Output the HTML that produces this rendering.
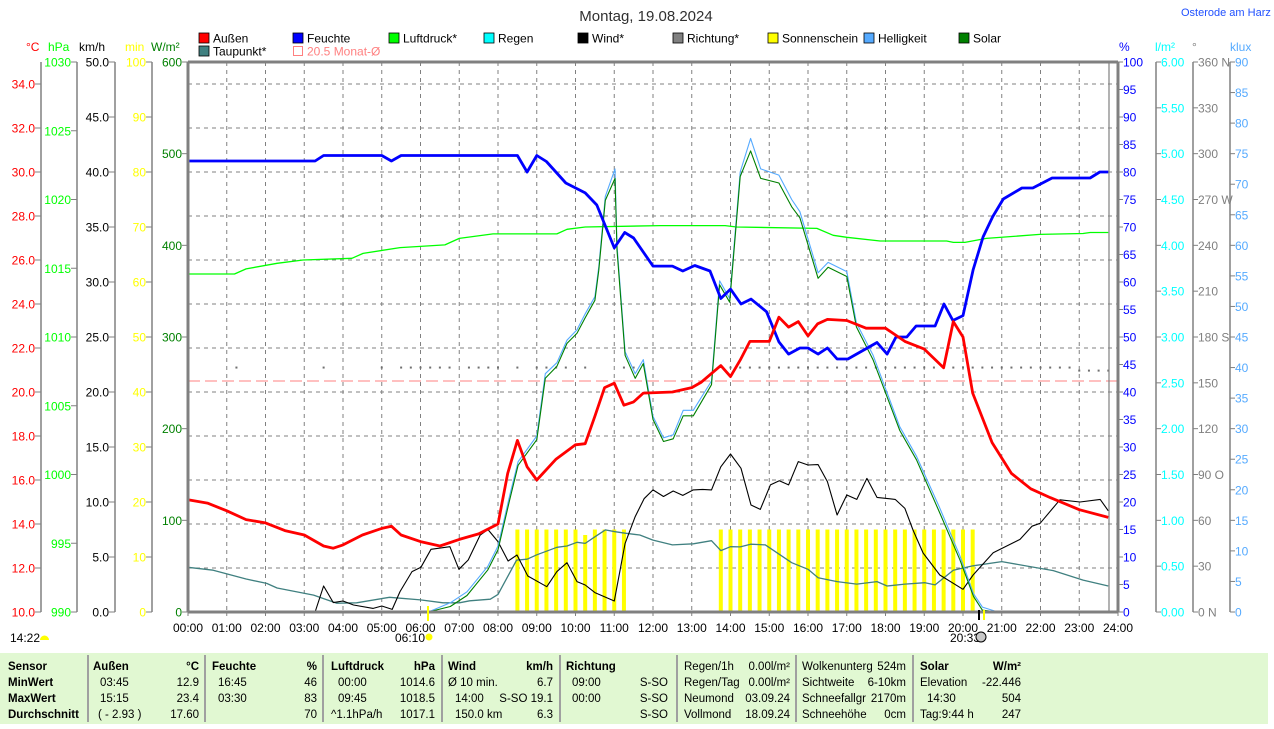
<!DOCTYPE html>
<html><head><meta charset="utf-8">
<style>
html,body{margin:0;padding:0;background:#fff;}
body{width:1274px;height:724px;overflow:hidden;font-family:"Liberation Sans",sans-serif;}
svg text{font-family:"Liberation Sans",sans-serif;}
</style></head>
<body>
<svg id="chart" width="1274" height="724" viewBox="0 0 1274 724" xmlns="http://www.w3.org/2000/svg">
<rect x="0" y="653" width="1268" height="71" fill="#e1f8d2"/>
<text x="646" y="21" font-size="15" text-anchor="middle" fill="#303030">Montag, 19.08.2024</text>
<text x="1181" y="16" font-size="11" fill="#2050ff">Osterode am Harz</text>
<g id="g"></g>
</svg>
<script>
// ---- data ----
const tT=[0,0.5,1,1.5,2,2.5,3,3.5,3.75,4,4.5,5,5.25,5.5,6,6.5,7,7.5,8,8.25,8.5,8.75,9,9.5,10,10.25,10.5,10.75,11,11.25,11.5,11.75,12.5,13,13.25,13.75,14,14.25,14.5,15,15.25,15.5,15.75,16,16.25,16.5,17,17.5,18,18.5,19,19.5,19.75,20,20.25,20.75,21.25,21.75,22.25,23,23.75];
const vT=[15.1,14.95,14.6,14.2,14.05,13.7,13.5,13.0,12.9,13.05,13.5,13.8,13.9,13.5,13.2,13.0,13.3,13.55,14.0,16.3,17.8,16.6,16.0,16.95,17.6,17.65,18.9,20.2,20.4,19.4,19.55,19.95,20.0,20.2,20.45,21.2,20.7,21.45,22.3,22.3,23.4,22.95,23.2,22.55,23.1,23.3,23.25,22.9,22.9,22.3,21.95,21.1,23.2,22.5,19.95,17.7,16.3,15.6,15.2,14.65,14.3];
const tH=[0,3.28,3.5,5.0,5.25,5.5,8.5,8.75,9.0,9.25,9.75,10.25,10.55,11.0,11.27,11.5,12.0,12.5,12.77,13.08,13.47,13.75,14.0,14.27,14.53,14.93,15.25,15.5,15.79,16.0,16.26,16.5,16.75,17.03,17.78,18.04,18.27,18.55,18.79,19.28,19.51,19.74,20.0,20.26,20.52,20.77,21.04,21.52,21.8,22.3,23.28,23.53,23.75];
const vH=[82,82,83,83,82,83,83,80,83,81.9,78,76.2,74,66.2,69,68,62.9,62.9,62,63,62,57,58.7,56,56.9,54.6,49.1,46.9,48,48,46.9,48,46,46,49,46.9,50,50,52,52,56,53,53.9,62.2,68.2,71.9,75.1,77.1,77.1,78.9,78.9,80,80];
const tP=[0,1.2,1.5,2.3,2.97,4.23,4.52,5.47,6.63,7.0,7.87,9.52,9.78,10.25,12.18,13.86,14.16,16.23,16.65,17.0,17.86,19.58,19.75,20.05,20.6,21.98,23.1,23.28,23.75];
const vP=[1014.58,1014.58,1014.95,1015.36,1015.6,1015.72,1016.08,1016.5,1016.7,1017.17,1017.5,1017.5,1017.83,1018.0,1018.1,1018.1,1018.0,1017.9,1017.4,1017.25,1016.98,1016.98,1016.88,1016.88,1017.17,1017.46,1017.53,1017.6,1017.6];
const tD=[0,0.65,1.5,2.03,2.3,3.24,3.84,4.35,5.2,6.0,6.58,7.0,7.27,7.8,8.0,8.48,8.75,9.0,9.52,9.78,10.04,10.25,10.5,10.77,11.02,11.28,11.66,12.0,12.5,13.04,13.51,13.75,14.0,14.25,14.52,14.9,15.58,16.0,16.26,16.75,17.26,17.78,18.04,18.5,19.02,19.28,19.75,20.26,21.0,21.64,22.33,23.1,23.75];
const vD=[12.03,11.9,11.5,11.3,11.09,10.77,10.4,10.42,10.67,10.55,10.42,10.42,10.51,10.58,10.8,12.36,12.4,12.6,12.94,13.0,13.17,13.12,13.42,13.73,13.65,13.58,13.5,13.27,13.05,13.1,13.24,12.79,12.97,12.96,13.08,13.05,12.24,11.94,11.56,11.38,11.27,11.38,11.18,11.27,11.33,11.23,11.9,12.1,12.29,12.09,11.88,11.45,11.18];
const tW=[0,3.28,3.5,3.75,4.0,4.27,4.78,5.0,5.27,5.47,5.78,6.01,6.27,6.76,6.99,7.23,7.54,7.74,8.0,8.26,8.49,8.77,9.26,9.52,9.78,10.04,10.25,10.5,11.0,11.28,11.54,11.77,12.0,12.27,12.52,12.77,13.04,13.28,13.51,13.75,14.0,14.27,14.53,14.77,15.03,15.26,15.5,15.75,16.0,16.26,16.5,16.75,17.0,17.26,17.52,17.78,18.25,18.5,18.71,18.97,19.4,20.0,20.26,20.78,21.47,21.78,21.99,22.5,23.02,23.54,23.75];
const vW=[0,0,2.36,0.85,1.0,0.64,0.33,0.55,0.24,1.85,3.67,4.06,5.7,5.94,3.88,4.73,7.0,7.5,6.4,4.64,5.18,3.27,2.3,3.67,4.48,2.76,2.45,1.76,1.0,6.24,8.67,10.3,11.1,10.5,11.0,10.6,11.1,11.15,11.1,13.2,14.36,13.06,9.73,9.33,11.55,11.94,11.55,13.67,13.36,13.4,11.85,8.82,10.64,10.24,12.15,10.42,10.24,9.42,7.45,5.36,3.36,2.06,3.36,5.39,6.6,7.8,8.06,10.2,10.0,10.24,9.2];
const tS=[6.2,6.77,7.2,7.74,8.0,8.3,8.52,9.0,9.22,9.52,9.78,10.04,10.25,10.5,10.6,10.77,11.02,11.07,11.28,11.54,11.75,12.0,12.27,12.52,12.78,13.04,13.51,13.72,13.98,14.25,14.52,14.78,15.25,15.58,15.79,16.26,16.52,17.0,17.25,17.68,18.37,18.8,19.4,19.92,20.27,20.5,20.9];
const vSolar=[0,6,18,46,68,122,160,188,255,268,293,304,321,340,373,449,473,395,280,255,271,210,186,189,214,214,248,357,338,475,503,473,468,442,430,364,376,366,311,275,198,166,108,57,17,2,0];
const vKlux=[0,1.5,3.3,7.5,10.8,19,24.6,28.8,39,40.8,44.5,46.2,48.8,51.6,56.5,68,72.5,60,42.6,39,41.3,32,28.5,29,33,33,37.8,54.2,51.3,72,77.5,72.5,71.5,67.5,65.5,55.5,57.2,55.7,47.3,42,30.3,25.5,17,9.2,3,0.8,0];
const sunT=[8.5,8.75,9,9.25,9.5,9.75,10,10.25,10.5,10.75,11,11.25,13.75,14,14.25,14.5,14.75,15,15.25,15.5,15.75,16,16.25,16.5,16.75,17,17.25,17.5,17.75,18,18.25,18.5,18.75,19,19.25,19.5,19.75,20,20.25];
const sunV=[15,15,15,15,15,15,15,14,15,15,15,15,15,15,15,15,15,15,15,15,15,15,15,15,15,15,15,15,15,15,15,15,15,15,15,15,15,15,15];
const dirT=[1.25,3.5,5.0,5.5,5.75,6.0,6.25,6.5,6.75,7.25,7.5,7.75,8.0,8.5,9.0,9.25,9.5,9.75,10.25,11.25,11.5,14,14.25,14.5,14.75,15,15.25,15.5,15.75,16,16.25,16.5,16.75,17,17.25,17.5,17.75,18,18.25,18.5,18.75,19,19.25,19.5,19.75,20,20.25,20.5,20.75,21,21.25,21.5,21.75,22,22.25,22.5,22.75,23,23.25,23.5,23.75];
const dirV=[160,160,160,160,160,160,160,160,160,160,160,160,160,160,160,160,160,160,160,160,160,160,160,160,160,160,160,160,160,160,160,160,160,160,160,160,160,160,160,160,160,160,160,160,160,160,160,160,160,160,160,160,160,160,160,160,160,158,158,158,158];
const monthAvg=[20.5];
const hourLabels=["00:00","01:00","02:00","03:00","04:00","05:00","06:00","07:00","08:00","09:00","10:00","11:00","12:00","13:00","14:00","15:00","16:00","17:00","18:00","19:00","20:00","21:00","22:00","23:00","24:00"];
const tempTicks=["34.0","32.0","30.0","28.0","26.0","24.0","22.0","20.0","18.0","16.0","14.0","12.0","10.0"];
const hpaTicks=["1030","1025","1020","1015","1010","1005","1000","995","990"];
const kmhTicks=["50.0","45.0","40.0","35.0","30.0","25.0","20.0","15.0","10.0","5.0","0.0"];
const minTicks=["100","90","80","70","60","50","40","30","20","10","0"];
const wTicks=["600","500","400","300","200","100","0"];
const pctTicks=["100","95","90","85","80","75","70","65","60","55","50","45","40","35","30","25","20","15","10","5","0"];
const rainTicks=["6.00","5.50","5.00","4.50","4.00","3.50","3.00","2.50","2.00","1.50","1.00","0.50","0.00"];
const dirTicks=["360 N","330","300","270 W","240","210","180 S","150","120","90 O","60","30","0 N"];
const kluxTicks=["90","85","80","75","70","65","60","55","50","45","40","35","30","25","20","15","10","5","0"];

// ---- axes ----
const L=188,R=1118,T=62,B=612;
const X=h=>L+h*(R-L)/24;
const yT=t=>B-(t-10)*22;
const yH=p=>B-p*5.5;
const yP=p=>B-(p-990)*13.75;
const yW=w=>B-w*11;
const yS=s=>B-s*550/600;
const yM=m=>B-m*5.5;
const yK=k=>B-k*550/90;
const yD=d=>B-d*550/360;
const yR=r=>B-r*550/6;

const NS="http://www.w3.org/2000/svg";
const g=document.getElementById('g');
function mk(tag,attrs){const e=document.createElementNS(NS,tag);for(const k in attrs)e.setAttribute(k,attrs[k]);g.appendChild(e);return e;}
function txt(s,x,y,size,fill,anchor,weight){const e=mk('text',{x:x,y:y,'font-size':size,fill:fill,'text-anchor':anchor||'start','font-weight':weight||'normal'});e.textContent=s;return e;}

// grid
for(let i=0;i<tempTicks.length;i++){const y=yT(34-2*i);if(y>=B)continue;
 const e=mk('line',{x1:L,y1:y,x2:R,y2:y,stroke:'#808080','stroke-dasharray':'4,4','stroke-width':1});
 
 }
for(let h=1;h<24;h++){const e=mk('line',{x1:X(h),y1:T,x2:X(h),y2:B,stroke:'#808080','stroke-dasharray':'4,4','stroke-width':1});
 
 }

// left axes
function leftAxis(ax,labels,yf,vals,color,name,labEnd){
 const a=mk('line',{x1:ax,y1:T,x2:ax,y2:B,stroke:'#808080','stroke-width':1.5});
 
 
 labels.forEach((s,i)=>{const y=yf(vals[i]);
  const tk=mk('line',{x1:ax-6,y1:y,x2:ax,y2:y,stroke:'#808080','stroke-width':1});
  
  
  const t=txt(s,labEnd,y+4.5,12,color,'end');
  
  });
}
leftAxis(41,tempTicks,yT,tempTicks.map(Number),'#ff0000','temp',35);
leftAxis(77,hpaTicks,yP,hpaTicks.map(Number),'#00ff00','hpa',71);
leftAxis(115,kmhTicks,yW,kmhTicks.map(Number),'#000000','kmh',109);
leftAxis(152,minTicks,yM,minTicks.map(Number),'#ffff00','min',146);
leftAxis(188,wTicks,yS,wTicks.map(Number),'#008000','wm2',182);
function rightAxis(ax,labels,yf,vals,color,name,labStart){
 const a=mk('line',{x1:ax,y1:T,x2:ax,y2:B,stroke:'#808080','stroke-width':1.5});
 
 
 labels.forEach((s,i)=>{const y=yf(vals[i]);
  const tk=mk('line',{x1:ax,y1:y,x2:ax+5,y2:y,stroke:'#808080','stroke-width':1});
  
  
  const t=txt(s,labStart,y+4.5,12,color,'start');
  
  });
}
rightAxis(1118,pctTicks,yH,pctTicks.map(Number),'#0000ff','pct',1123);
rightAxis(1156,rainTicks,yR,rainTicks.map(Number),'#00ffff','rain',1161);
rightAxis(1193,dirTicks,yD,dirTicks.map(s=>parseFloat(s)),'#808080','dir',1198);
rightAxis(1230,kluxTicks,yK,kluxTicks.map(Number),'#55aaff','klux',1235);

// unit headers
[["°C",26,'#ff0000'],["hPa",48,'#00ff00'],["km/h",79,'#000000'],["min",125,'#ffff00'],["W/m²",151,'#008000'],["%",1119,'#0000ff'],["l/m²",1155,'#00ffff'],["°",1192,'#808080'],["klux",1230,'#55aaff']].forEach(u=>{
 const t=txt(u[0],u[1],51,12,u[2]);
 
 });

// legend
const legNames=["Außen","Feuchte","Luftdruck*","Regen","Wind*","Richtung*","Sonnenschein","Helligkeit","Solar"];
const legColors=["#ff0000","#0000ff","#00ff00","#00ffff","#000000","#808080","#ffff00","#55aaff","#008000"];
const legX=[199,293,389,484,578,673,768,864,959];
legNames.forEach((n,i)=>{
 const r=mk('rect',{x:legX[i],y:33,width:10,height:10,fill:legColors[i],stroke:'#000','stroke-width':0.8});
 
 
 const t=txt(n,legX[i]+14,42.5,12,'#000');
 
 });
{const r=mk('rect',{x:199,y:46,width:10,height:10,fill:'#408080',stroke:'#000','stroke-width':0.8});
 
 
 const t=txt("Taupunkt*",213,55.5,12,'#000');
 
 
 const r2=mk('rect',{x:293.5,y:46.5,width:9,height:9,fill:'none',stroke:'#ff8080','stroke-width':1});
 
 
 const t2=txt("20.5 Monat-Ø",307,55.5,12,'#ff8080');
 
 }

// sunshine bars
sunT.forEach((h,i)=>{const b=mk('rect',{x:X(h)-2,y:yM(sunV[i]),width:4,height:B-yM(sunV[i]),fill:'#ffff00'});
 
 });

// monthly average line
{const y=yT(monthAvg[0]);const e=mk('line',{x1:L,y1:y,x2:R,y2:y,stroke:'#ff8080','stroke-width':1,'stroke-dasharray':'12,5'});
 
 }

// direction dots
dirT.forEach((h,i)=>{const d=mk('rect',{x:X(h)-1,y:yD(dirV[i])-1,width:2,height:2,fill:'#707070'});
 
 });

function series(ts,vs,yf,color,w,name){
 const pts=ts.map((h,i)=>X(h).toFixed(1)+','+yf(vs[i]).toFixed(1)).join(' ');
 const p=mk('polyline',{points:pts,fill:'none',stroke:color,'stroke-width':w,'stroke-linejoin':'round'});
 
 }
series(tP,vP,yP,'#00ff00',1.3,'pressure-line');
series(tD,vD,yT,'#408080',1.3,'dewpoint-line');
series(tW,vW,yW,'#000000',1.1,'wind-line');
series(tS,vKlux,yK,'#55aaff',1.1,'brightness-line');
series(tS,vSolar,yS,'#008000',1.1,'solar-line');
series(tH,vH,yH,'#0000ff',2.8,'humidity-line');
series(tT,vT,yT,'#ff0000',2.8,'temperature-line');

// frame
[[L,T,R,T],[L,B,R,B],[L,T,L,B],[R,T,R,B]].forEach(c=>{const e=mk('line',{x1:c[0],y1:c[1],x2:c[2],y2:c[3],stroke:'#808080','stroke-width':3});
 
 });
{const e=mk('line',{x1:1109,y1:T,x2:1109,y2:B,stroke:'#808080','stroke-width':1.2});
 
 }

// x labels
hourLabels.forEach((s,i)=>{const tk=mk('line',{x1:X(i),y1:B,x2:X(i),y2:B+4,stroke:'#808080'});
 
 
 const t=txt(s,X(i),632,12,'#000','middle');
 
 });

// sunrise / sunset markers
{const a=mk('line',{x1:428,y1:606,x2:428,y2:621,stroke:'#ffff00','stroke-width':2});
 
 
 const t=txt("06:10",395,642,12,'#000');
 
 
 const c=mk('circle',{cx:429,cy:637,r:3.5,fill:'#ffff00'});
 
 
 const b=mk('line',{x1:979,y1:610,x2:979,y2:620,stroke:'#000','stroke-width':2});
 
 
 const b2=mk('line',{x1:984,y1:610,x2:984,y2:620,stroke:'#ffff00','stroke-width':2});
 
 
 const t2=txt("20:33",950,642,12,'#000');
 
 
 const c2=mk('circle',{cx:981,cy:637,r:5,fill:'#c8c8c8',stroke:'#000','stroke-width':1});
 
 
 const t3=txt("14:22",10,642,12,'#000');
 
 
 const c3=mk('path',{d:'M40,640 a4,4 0 0 1 9,0 z',fill:'#ffff00'});
 
 }

// table
[88,205,323,442,560,677,796,913].forEach(x=>{const e=mk('line',{x1:x,y1:655,x2:x,y2:722,stroke:'#a0a0a0','stroke-width':2});
 
 });
const rows=[670,686,702,718];
const cells=[
["Sensor",8,0,'start',1],["MinWert",8,1,'start',1],["MaxWert",8,2,'start',1],["Durchschnitt",8,3,'start',1],
["Außen",93,0,'start',1],["°C",199,0,'end',1],["03:45",100,1,'start',0],["12.9",199,1,'end',0],["15:15",100,2,'start',0],["23.4",199,2,'end',0],["( - 2.93 )",98,3,'start',0],["17.60",199,3,'end',0],
["Feuchte",212,0,'start',1],["%",317,0,'end',1],["16:45",218,1,'start',0],["46",317,1,'end',0],["03:30",218,2,'start',0],["83",317,2,'end',0],["70",317,3,'end',0],
["Luftdruck",331,0,'start',1],["hPa",435,0,'end',1],["00:00",338,1,'start',0],["1014.6",435,1,'end',0],["09:45",338,2,'start',0],["1018.5",435,2,'end',0],["^1.1hPa/h",331,3,'start',0],["1017.1",435,3,'end',0],
["Wind",448,0,'start',1],["km/h",553,0,'end',1],["Ø 10 min.",448,1,'start',0],["6.7",553,1,'end',0],["14:00",455,2,'start',0],["S-SO 19.1",553,2,'end',0],["150.0 km",455,3,'start',0],["6.3",553,3,'end',0],
["Richtung",566,0,'start',1],["09:00",572,1,'start',0],["S-SO",668,1,'end',0],["00:00",572,2,'start',0],["S-SO",668,2,'end',0],["S-SO",668,3,'end',0],
["Regen/1h",684,0,'start',0],["0.00l/m²",790,0,'end',0],["Regen/Tag",684,1,'start',0],["0.00l/m²",790,1,'end',0],["Neumond",684,2,'start',0],["03.09.24",790,2,'end',0],["Vollmond",684,3,'start',0],["18.09.24",790,3,'end',0],
["Wolkenunterg",802,0,'start',0],["524m",906,0,'end',0],["Sichtweite",802,1,'start',0],["6-10km",906,1,'end',0],["Schneefallgr",802,2,'start',0],["2170m",906,2,'end',0],["Schneehöhe",802,3,'start',0],["0cm",906,3,'end',0],
["Solar",920,0,'start',1],["W/m²",1021,0,'end',1],["Elevation",920,1,'start',0],["-22.446",1021,1,'end',0],["14:30",927,2,'start',0],["504",1021,2,'end',0],["Tag:9:44 h",920,3,'start',0],["247",1021,3,'end',0]
];
cells.forEach(c=>{const t=txt(c[0],c[1],rows[c[2]],11.5,'#000',c[3],c[4]?'bold':'normal');
 
 });
</script>
</body></html>
